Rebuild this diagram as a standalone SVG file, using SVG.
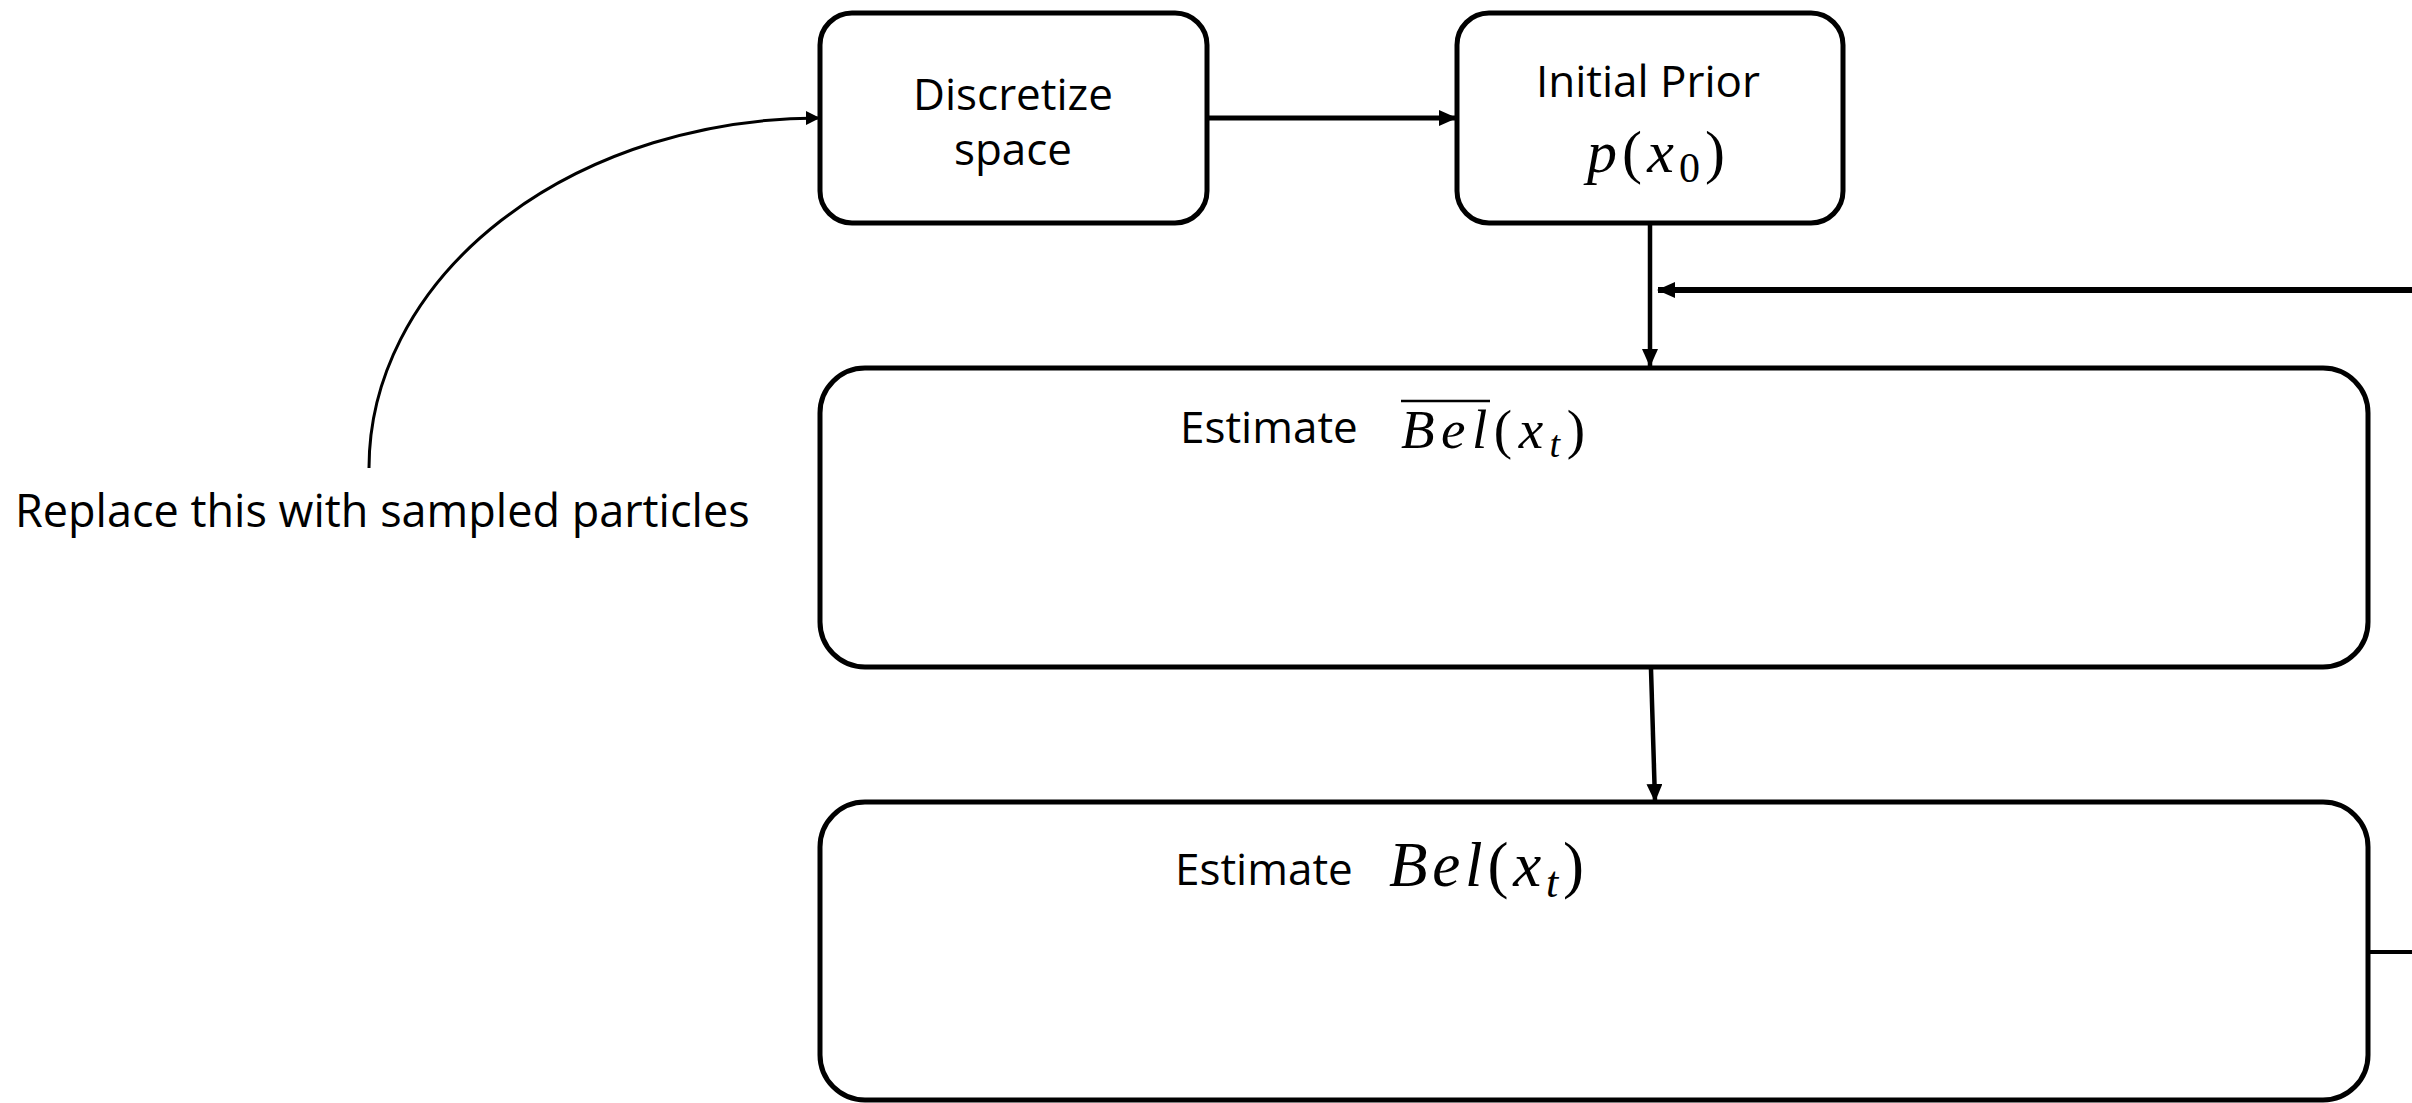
<svg xmlns="http://www.w3.org/2000/svg" width="2412" height="1103" viewBox="0 0 2412 1103">
<style>
.box{fill:#fff;stroke:#000;stroke-width:5}
.lbl{font-family:"Open Sans","Noto Sans",sans-serif;font-size:44px;fill:#000}
.math{font-family:"Liberation Serif",serif;fill:#000}
.it{font-style:italic}
.conn{fill:none;stroke:#000}
</style>
<defs>
<marker id="ah" markerUnits="userSpaceOnUse" markerWidth="18" markerHeight="16" refX="17" refY="8" orient="auto">
<path d="M0,0 L18,8 L0,16 z" fill="#000"/>
</marker>
<marker id="ahs" markerUnits="userSpaceOnUse" markerWidth="14" markerHeight="14" refX="13" refY="7" orient="auto">
<path d="M0,0 L14,7 L0,14 z" fill="#000"/>
</marker>
</defs>
<rect width="2412" height="1103" fill="#fff"/>
<g id="connectors">
<path class="conn" stroke-width="3" d="M369,468 A451,350 0 0 1 819,118" marker-end="url(#ahs)"/>
<line class="conn" stroke-width="5" x1="1207" y1="118" x2="1456" y2="118" marker-end="url(#ah)"/>
<line class="conn" stroke-width="4.5" x1="1650" y1="225" x2="1650" y2="366" marker-end="url(#ah)"/>
<line class="conn" stroke-width="6" x1="2412" y1="290" x2="1658" y2="290" marker-end="url(#ah)"/>
<line class="conn" stroke-width="4.5" x1="1651" y1="669" x2="1655" y2="801" marker-end="url(#ah)"/>
<line class="conn" stroke-width="4" x1="2368" y1="952" x2="2412" y2="952"/>
</g>
<g id="discretize">
<rect class="box" x="820" y="13" width="387" height="210" rx="32"/>
<text class="lbl" x="1013" y="110" text-anchor="middle">Discretize</text>
<text class="lbl" x="1013" y="165" text-anchor="middle">space</text>
</g>
<g id="prior">
<rect class="box" x="1457" y="13" width="386" height="210" rx="32"/>
<text class="lbl" x="1648" y="97" text-anchor="middle">Initial Prior</text>
<text class="math" x="1587" y="172" font-size="60" textLength="138" lengthAdjust="spacing"><tspan class="it">p</tspan>(<tspan class="it">x</tspan><tspan font-size="42" dy="10">0</tspan><tspan dy="-10">)</tspan></text>
</g>
<g id="predict">
<rect class="box" x="820" y="368" width="1548" height="299" rx="45"/>
<text class="lbl" x="1180" y="443">Estimate</text>
<line x1="1401" y1="401" x2="1490" y2="401" stroke="#000" stroke-width="2.5"/>
<text class="math" x="1401" y="448" font-size="55" textLength="184" lengthAdjust="spacing"><tspan class="it">Bel</tspan>(<tspan class="it">x</tspan><tspan class="it" font-size="38" dy="9">t</tspan><tspan dy="-9">)</tspan></text>
</g>
<g id="update">
<rect class="box" x="820" y="802" width="1548" height="298" rx="45"/>
<text class="lbl" x="1175" y="885">Estimate</text>
<text class="math" x="1389" y="886" font-size="63" textLength="195" lengthAdjust="spacing"><tspan class="it">Bel</tspan>(<tspan class="it">x</tspan><tspan class="it" font-size="44" dy="11">t</tspan><tspan dy="-11">)</tspan></text>
</g>
<g id="note">
<text class="lbl" x="15" y="527" style="font-size:45px">Replace this with sampled particles</text>
</g>
</svg>
